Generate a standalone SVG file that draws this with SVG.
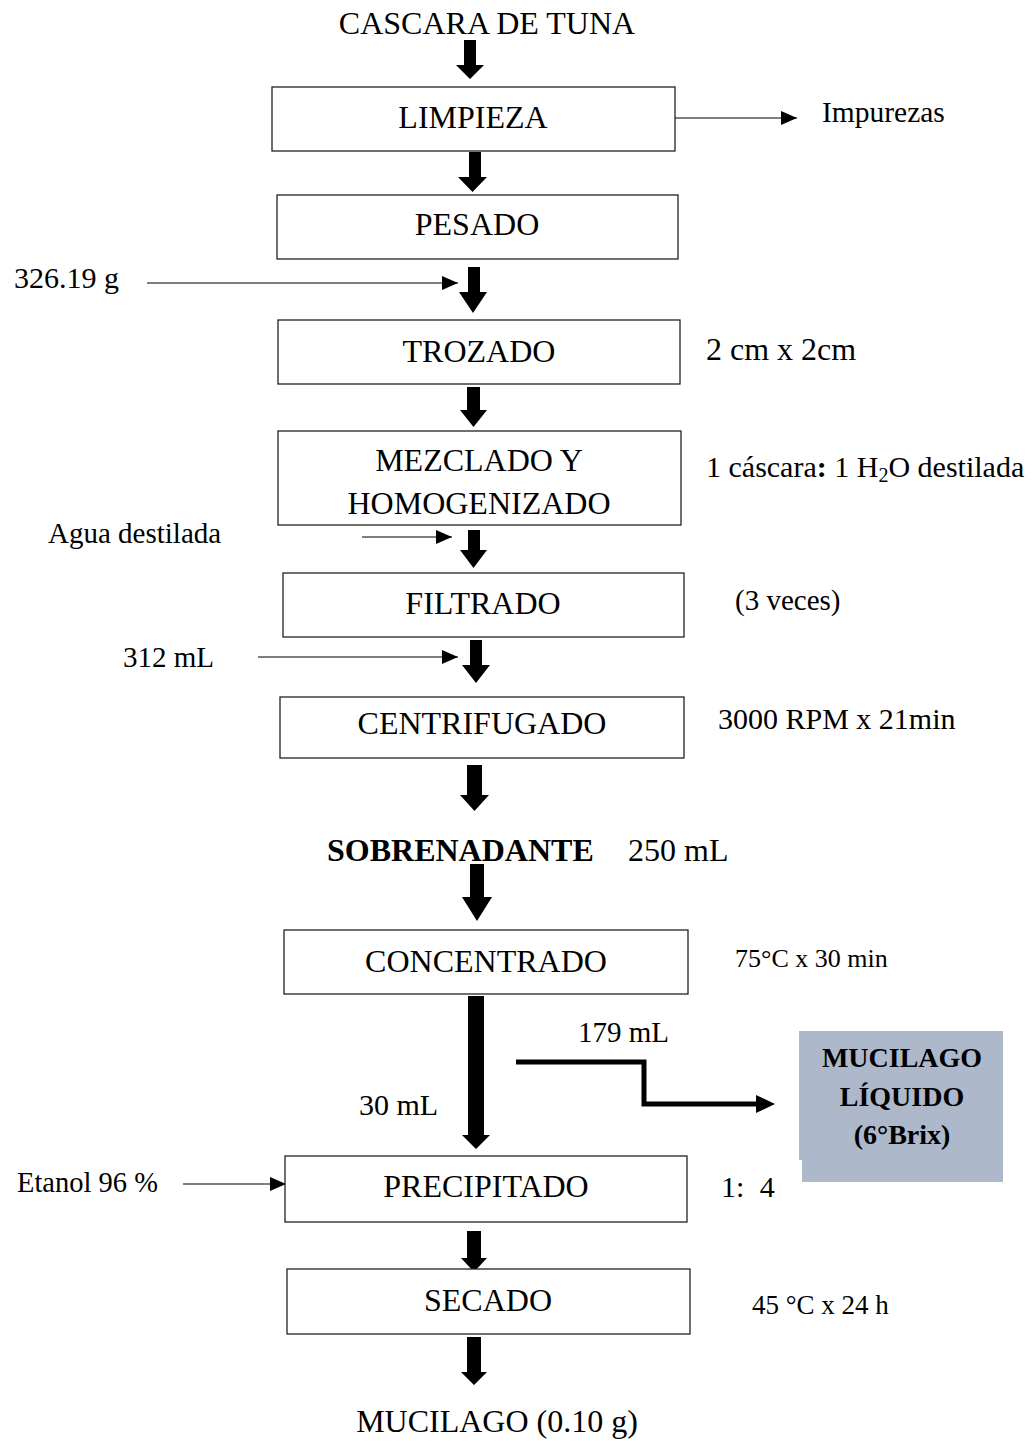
<svg xmlns="http://www.w3.org/2000/svg" width="1034" height="1441" viewBox="0 0 1034 1441">
<style>
text{font-family:"Liberation Serif","Times New Roman",serif;font-size:30px;fill:#000}
.c{text-anchor:middle}
.b{font-weight:bold}
.L{font-size:32px}
.box{fill:#fff;stroke:#222;stroke-width:1.3}
.fat{fill:#000}
.thin{stroke:#000;stroke-width:1.2;fill:none;marker-end:url(#ah)}
.step{stroke:#000;stroke-width:5;fill:none}
.m{font-size:28px;font-weight:bold;text-anchor:middle}
</style>
<defs>
<marker id="ah" markerUnits="userSpaceOnUse" markerWidth="18" markerHeight="14" refX="16" refY="7" orient="auto">
<path d="M0,0 L16,7 L0,14 Z" fill="#000"/>
</marker>
</defs>
<rect width="1034" height="1441" fill="#fff"/>

<g id="connectors">
<path class="fat" d="M464,40 H476 V65 H484 L470,79 L456,65 H464 Z"/>
<path class="fat" d="M469,152 H481 V177 H487 L472.5,192 L458,177 H469 Z"/>
<path class="fat" d="M468,267 H480 V292 H487 L473,313 L459,292 H468 Z"/>
<path class="fat" d="M467,387 H480 V410 H487 L473.5,427 L460,410 H467 Z"/>
<path class="fat" d="M468,530 H480 V550 H487 L473.5,568 L460,550 H468 Z"/>
<path class="fat" d="M470,640 H482 V665 H490 L476,683 L462,665 H470 Z"/>
<path class="fat" d="M467,765 H482 V795 H489 L474.5,811 L460,795 H467 Z"/>
<path class="fat" d="M470,864 H484 V897 H492 L477,921 L462,897 H470 Z"/>
<path class="fat" d="M468,996 H484 V1135 H490 L476,1149 L462,1135 H468 Z"/>
<path class="fat" d="M467,1231 H481 V1258 H487 L474,1272 L461,1258 H467 Z"/>
<path class="fat" d="M467,1337 H481 V1372 H487 L474,1385 L461,1372 H467 Z"/>
<line class="thin" x1="672" y1="118" x2="797" y2="118"/>
<line class="thin" x1="147" y1="283" x2="458" y2="283"/>
<line class="thin" x1="362" y1="537" x2="452" y2="537"/>
<line class="thin" x1="258" y1="657" x2="458" y2="657"/>
<line class="thin" x1="183" y1="1184" x2="286" y2="1184"/>
<polyline class="step" points="516,1062 644,1062 644,1104 758,1104"/>
<path class="fat" d="M756,1095 L775,1104 L756,1113 Z"/>
</g>

<g id="title"><text class="c L" x="487" y="34">CASCARA DE TUNA</text></g>

<g id="limpieza"><rect class="box" x="272" y="87" width="403" height="64"/><text class="c L" x="473" y="128">LIMPIEZA</text></g>
<g id="impurezas"><text x="822" y="122" style="font-size:29.5px">Impurezas</text></g>
<g id="pesado"><rect class="box" x="277" y="195" width="401" height="64"/><text class="c L" x="477" y="235">PESADO</text></g>
<g id="peso"><text x="14" y="288">326.19 g</text></g>
<g id="trozado"><rect class="box" x="278" y="320" width="402" height="64"/><text class="c L" x="479" y="362">TROZADO</text></g>
<g id="tamano"><text class="L" x="706" y="360">2 cm x 2cm</text></g>
<g id="mezclado"><rect class="box" x="278" y="431" width="403" height="94"/><text class="c L" x="479" y="471">MEZCLADO Y</text><text class="c L" x="479" y="514">HOMOGENIZADO</text></g>
<g id="proporcion"><text x="706" y="477">1 cáscara<tspan class="b">:</tspan> 1 H<tspan font-size="20" dy="5">2</tspan><tspan dy="-5">O destilada</tspan></text></g>
<g id="agua"><text x="48" y="543" style="font-size:29px">Agua destilada</text></g>
<g id="filtrado"><rect class="box" x="283" y="573" width="401" height="64"/><text class="c L" x="483" y="614">FILTRADO</text></g>
<g id="veces"><text x="735" y="610" style="font-size:29px">(3 veces)</text></g>
<g id="vol312"><text x="123" y="667" style="font-size:29px">312 mL</text></g>
<g id="centrifugado"><rect class="box" x="280" y="697" width="404" height="61"/><text class="c L" x="482" y="734">CENTRIFUGADO</text></g>
<g id="rpm"><text x="718" y="729">3000 RPM x 21min</text></g>
<g id="sobrenadante"><text class="b L" x="327" y="861">SOBRENADANTE</text><text class="L" x="628" y="861">250 mL</text></g>
<g id="concentrado"><rect class="box" x="284" y="930" width="404" height="64"/><text class="c L" x="486" y="972">CONCENTRADO</text></g>
<g id="temp75"><text x="735" y="967" style="font-size:26px">75°C x 30 min</text></g>
<g id="vol179"><text x="578" y="1042" style="font-size:29px">179 mL</text></g>
<g id="vol30"><text x="359" y="1115">30 mL</text></g>
<g id="mucilago-liquido"><path d="M799,1031 H1003 V1182 H802 V1160 H799 Z" fill="#adb9ca"/><text class="m" x="902" y="1067">MUCILAGO</text><text class="m" x="902" y="1106">LÍQUIDO</text><text class="m" x="902" y="1144">(6°Brix)</text></g>
<g id="etanol"><text x="17" y="1192" style="font-size:28.5px">Etanol 96 %</text></g>
<g id="precipitado"><rect class="box" x="285" y="1156" width="402" height="66"/><text class="c L" x="486" y="1197">PRECIPITADO</text></g>
<g id="ratio"><text x="721" y="1197" word-spacing="8">1: 4</text></g>
<g id="secado"><rect class="box" x="287" y="1269" width="403" height="65"/><text class="c L" x="488" y="1311">SECADO</text></g>
<g id="temp45"><text x="752" y="1314" style="font-size:27px">45 °C x 24 h</text></g>
<g id="mucilago"><text class="c L" x="497" y="1432">MUCILAGO (0.10 g)</text></g>
</svg>
